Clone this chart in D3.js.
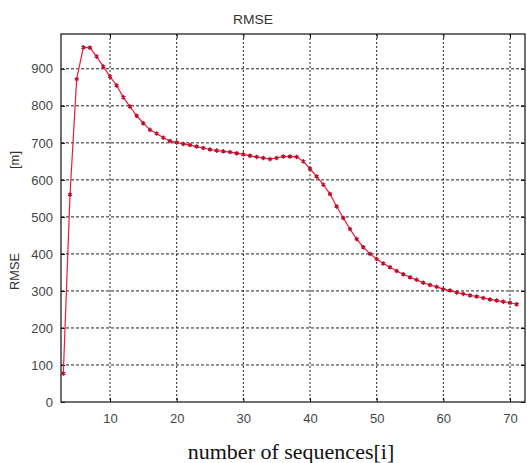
<!DOCTYPE html>
<html>
<head>
<meta charset="utf-8">
<script src="https://cdn.jsdelivr.net/npm/d3@7"></script>
<style>
  body { margin: 0; background: #fff; }
  svg { display: block; }
  .tick text { font-family: Arial, "Liberation Sans", sans-serif; font-size: 13px; fill: #444; }
</style>
</head>
<body>
<div id="chart"></div>
<script>
// number of sequences
const sequences = [3, 4, 5, 6, 7, 8, 9, 10, 11, 12, 13, 14, 15, 16, 17, 18, 19, 20,
  21, 22, 23, 24, 25, 26, 27, 28, 29, 30, 31, 32, 33, 34, 35, 36, 37, 38, 39, 40,
  41, 42, 43, 44, 45, 46, 47, 48, 49, 50, 51, 52, 53, 54, 55, 56, 57, 58, 59, 60,
  61, 62, 63, 64, 65, 66, 67, 68, 69, 70, 71];
// RMSE [m]
const rmse = [77, 560, 872, 958, 957, 933, 906, 879, 855, 823, 798, 773, 753, 735, 725, 714, 705, 701,
  697, 694, 690, 686, 682, 679, 677, 675, 672, 669, 665, 662, 659, 656, 659, 663, 663, 662, 650, 630,
  609, 587, 562, 528, 497, 467, 440, 418, 400, 386, 374, 364, 354, 345, 337, 330, 322, 316, 311, 305,
  301, 296, 292, 288, 285, 281, 277, 274, 271, 268, 264];
const xTicks = [10, 20, 30, 40, 50, 60, 70];
const yTicks = [0, 100, 200, 300, 400, 500, 600, 700, 800, 900];

const W = 527, H = 463;
var margin = { top: 34, right: 2, bottom: 61, left: 61 },
  width = W - margin.left - margin.right,
  height = H - margin.top - margin.bottom;

const svg = d3.select("#chart").append("svg").attr("width", W).attr("height", H);
const g = svg.append("g").attr("transform", `translate(${margin.left},${margin.top})`);

var x = d3.scaleLinear().domain([2.65, 72.25]).range([0, width]);
var y = d3.scaleLinear().domain([0, 994]).range([height, 0]);

// grid
g.append("g")
  .selectAll("line")
  .data(xTicks)
  .join("line")
  .attr("x1", (d) => x(d)).attr("x2", (d) => x(d))
  .attr("y1", 0).attr("y2", height)
  .attr("stroke", "#222").attr("stroke-width", 1)
  .attr("stroke-dasharray", "2,2");
g.append("g")
  .selectAll("line")
  .data(yTicks.filter((d) => d > 0))
  .join("line")
  .attr("x1", 0).attr("x2", width)
  .attr("y1", (d) => y(d)).attr("y2", (d) => y(d))
  .attr("stroke", "#222").attr("stroke-width", 1)
  .attr("stroke-dasharray", "3,2");

// axes (inward ticks)
g.append("g").attr("transform", `translate(0,${height})`)
  .call(d3.axisBottom(x).tickValues(xTicks).tickSizeInner(-4).tickSizeOuter(0).tickPadding(12));
g.append("g")
  .call(d3.axisLeft(y).tickValues(yTicks).tickSizeInner(-4).tickSizeOuter(0).tickPadding(8));
g.append("g")
  .call(d3.axisTop(x).tickValues(xTicks).tickSizeInner(-4).tickSizeOuter(0).tickFormat(""));
g.append("g").attr("transform", `translate(${width},0)`)
  .call(d3.axisRight(y).tickValues(yTicks).tickSizeInner(-4).tickSizeOuter(0).tickFormat(""));
g.selectAll(".domain").remove();
g.selectAll(".tick line").attr("stroke", "#000");

g.append("rect")
  .attr("width", width).attr("height", height)
  .attr("fill", "none").attr("stroke", "#222").attr("stroke-width", 1.3);

// curve
const pts = sequences.map((s, i) => [s, rmse[i]]);
g.append("path")
  .datum(pts)
  .attr("fill", "none")
  .attr("stroke", "#ec1a3a")
  .attr("stroke-width", 1.2)
  .attr("d", d3.line().x((d) => x(d[0])).y((d) => y(d[1])));

g.append("g")
  .selectAll("path")
  .data(pts)
  .join("path")
  .attr("transform", (d) => `translate(${x(d[0])},${y(d[1])})`)
  .attr("d", d3.symbol(d3.symbolAsterisk, 14))
  .attr("stroke", "#b80f28")
  .attr("stroke-width", 1.3)
  .attr("fill", "none");

// labels
const sans = "Arial, 'Liberation Sans', sans-serif";
svg.append("text")
  .text("RMSE")
  .attr("x", 233).attr("y", 24)
  .attr("textLength", 40).attr("lengthAdjust", "spacingAndGlyphs")
  .attr("font-family", sans)
  .attr("font-size", 13)
  .attr("fill", "#333");

svg.append("text")
  .text("[m]")
  .attr("transform", "translate(19,169) rotate(-90)")
  .attr("textLength", 18).attr("lengthAdjust", "spacingAndGlyphs")
  .attr("font-family", sans)
  .attr("font-size", 13)
  .attr("fill", "#333");

svg.append("text")
  .text("RMSE")
  .attr("transform", "translate(19,290) rotate(-90)")
  .attr("textLength", 37).attr("lengthAdjust", "spacingAndGlyphs")
  .attr("font-family", sans)
  .attr("font-size", 13)
  .attr("fill", "#333");

svg.append("text")
  .text("number of sequences[i]")
  .attr("x", 291).attr("y", 459)
  .attr("text-anchor", "middle")
  .attr("font-family", "'Liberation Serif', 'DejaVu Serif', serif")
  .attr("font-size", 22)
  .attr("fill", "#111");
</script>
</body>
</html>
